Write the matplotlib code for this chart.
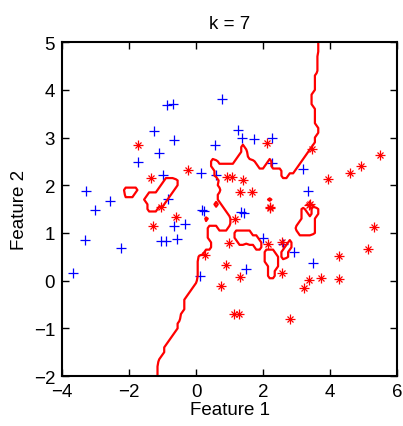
import numpy as np
import matplotlib
matplotlib.use("Agg")
import matplotlib.pyplot as plt

plt.rcParams['font.family'] = ['Liberation Sans', 'DejaVu Sans']

# Class 1 (blue +)
blue_x = [0.79, -0.88, -0.69, -1.24, -0.65, 0.57, -1.10, -1.73, -0.99, 0.16,
          0.60, -3.28, -2.57, -3.02, -0.84, 0.19, 0.23, -0.65, -0.33, 1.26,
          1.38, 1.74, 2.28, 2.28, 3.18, 3.35, 1.34, 1.43, 1.99, 2.60,
          2.93, 3.49, 1.48, -3.31, -1.06, -0.90, -0.56, -2.25, -3.68, 0.11]
blue_y = [3.81, 3.68, 3.70, 3.13, 2.94, 2.85, 2.67, 2.49, 2.22, 2.25,
          2.21, 1.87, 1.67, 1.48, 1.71, 1.48, 1.46, 1.15, 1.18, 3.16,
          3.00, 2.96, 2.98, 2.47, 2.35, 1.88, 1.44, 1.42, 0.89, 0.77,
          0.60, 0.38, 0.24, 0.86, 0.84, 0.84, 0.88, 0.69, 0.16, 0.10]

# Class 2 (red *)
red_x = [-1.73, -0.25, -1.35, 0.92, 1.07, -1.04, -0.61, -1.27, 2.11, 3.45,
         5.49, 4.94, 4.61, 3.95, 1.39, 1.31, 1.68, 2.20, 2.22, 3.37,
         3.39, 1.15, 5.32, 0.99, 2.14, 2.57, 5.15, 4.26, 0.89, 2.57,
         1.31, 3.36, 3.72, 4.26, 3.23, 0.74, 1.12, 1.29, 2.80, 0.28]
red_y = [2.85, 2.31, 2.15, 2.17, 2.17, 1.54, 1.33, 1.14, 2.89, 2.76,
         2.63, 2.40, 2.25, 2.13, 2.11, 1.85, 1.85, 1.52, 1.55, 1.58,
         1.61, 1.29, 1.12, 0.79, 0.76, 0.82, 0.67, 0.51, 0.32, 0.17,
         0.07, 0.01, 0.06, 0.03, -0.15, -0.12, -0.69, -0.70, -0.81, 0.53]

k = 7
x_ticks = [-4, -2, 0, 2, 4, 6]
y_ticks = [-2, -1, 0, 1, 2, 3, 4, 5]

# k-nearest-neighbour vote on a grid
X = np.column_stack([np.r_[blue_x, red_x], np.r_[blue_y, red_y]])
labels = np.r_[np.zeros(len(blue_x)), np.ones(len(red_x))]
gx = np.linspace(-4, 6, 101)
gy = np.linspace(-2, 5, 71)
GX, GY = np.meshgrid(gx, gy)
G = np.column_stack([GX.ravel(), GY.ravel()])
d = ((G[:, None, :] - X[None, :, :]) ** 2).sum(-1)
nn = np.argsort(d, axis=1)[:, :k]
vote = labels[nn].mean(axis=1).reshape(GX.shape)

fig = plt.figure(figsize=(4.03, 4.27), dpi=100)
ax = fig.add_axes([0.154, 0.117, 0.831, 0.782])

ms = 6.5
ax.plot(blue_x, blue_y, '+', color='#0000ff', markersize=ms, markeredgewidth=0.9)
# asterisk marker: a plus overlaid with a cross
ax.plot(red_x, red_y, '+', color='#ff0000', markersize=ms, markeredgewidth=0.9)
ax.plot(red_x, red_y, 'x', color='#ff0000', markersize=ms / np.sqrt(2),
        markeredgewidth=0.9)
ax.contour(GX, GY, vote, levels=[0.5], colors='#ff0000', linewidths=1.6)

ax.set_xlim(-4, 6)
ax.set_ylim(-2, 5)
ax.set_xticks(x_ticks)
ax.set_yticks(y_ticks)
ax.set_xticklabels([str(t).replace('-', '\u2212') for t in x_ticks])
ax.set_yticklabels([str(t).replace('-', '\u2212') for t in y_ticks])
ax.tick_params(direction='in', top=True, right=True, length=5, width=1.0,
               labelsize=13.5, pad=5)
for s in ax.spines.values():
    s.set_linewidth(1.5)

ax.set_xlabel('Feature 1', fontsize=13.5, labelpad=1)
ax.set_ylabel('Feature 2', fontsize=13.5, labelpad=4)
ax.set_title('k = 7', fontsize=13.5, pad=10)

fig.savefig('out.png', dpi=100)
